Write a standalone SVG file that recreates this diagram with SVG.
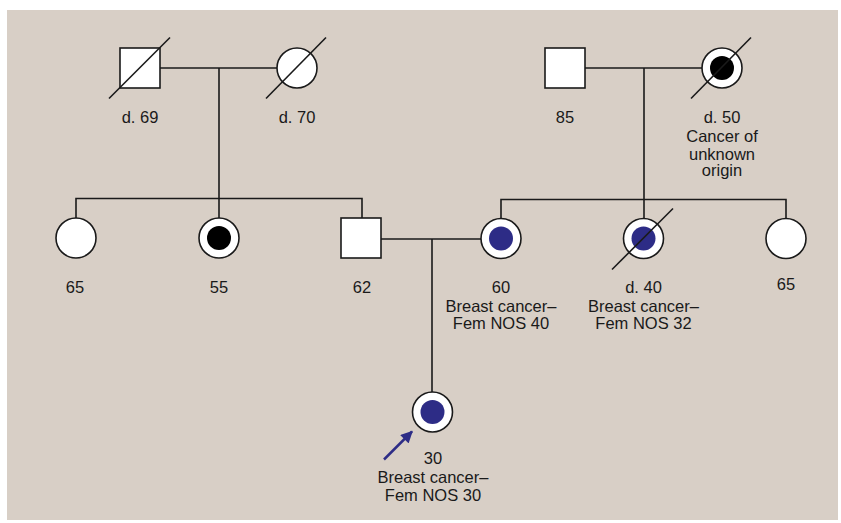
<svg xmlns="http://www.w3.org/2000/svg" width="841" height="523" viewBox="0 0 841 523">
<style>
.sym{fill:#fff;stroke:#1a1a1a;stroke-width:1.6}
.ln{stroke:#1a1a1a;stroke-width:1.6;fill:none}
.blk{fill:#000}
.blu{fill:#2d2c86}
.t{font-family:"Liberation Sans",Arial,sans-serif;font-size:16.5px;fill:#1a1a1a;text-anchor:middle}
</style>
<defs>
<marker id="ah" viewBox="0 0 10 10" refX="9" refY="5" markerWidth="13" markerHeight="12" markerUnits="userSpaceOnUse" orient="auto">
<path d="M0,0 L10,5 L0,10 Z" fill="#2d2c86"/>
</marker>
</defs>
<rect x="7" y="10" width="831" height="510" fill="#d8cfc6"/>
<g id="connectors">
<line class="ln" x1="160" y1="68" x2="277" y2="68"/>
<line class="ln" x1="219" y1="68" x2="219" y2="218"/>
<polyline class="ln" points="76,218 76,198.5 362,198.5 362,218"/>
<line class="ln" x1="585" y1="68" x2="702" y2="68"/>
<line class="ln" x1="644" y1="68" x2="644" y2="218"/>
<polyline class="ln" points="501,218 501,199.5 786,199.5 786,218"/>
<line class="ln" x1="381" y1="239" x2="481" y2="239"/>
<line class="ln" x1="432" y1="239" x2="432" y2="392"/>
</g>
<g id="gf1">
<rect class="sym" x="120" y="48" width="40" height="40"/>
<line class="ln" x1="109" y1="98.5" x2="170" y2="37.5"/>
<text class="t" x="140" y="123">d. 69</text>
</g>
<g id="gm1">
<circle class="sym" cx="297" cy="68" r="20"/>
<line class="ln" x1="266" y1="98.5" x2="326" y2="37.5"/>
<text class="t" x="297" y="123">d. 70</text>
</g>
<g id="gf2">
<rect class="sym" x="545" y="48" width="40" height="40"/>
<text class="t" x="565" y="123">85</text>
</g>
<g id="gm2">
<circle class="sym" cx="722" cy="68" r="20"/>
<circle class="blk" cx="722" cy="68" r="12"/>
<line class="ln" x1="691" y1="98.5" x2="751" y2="37.5"/>
<text class="t" x="722" y="123">d. 50</text>
<text class="t" x="722" y="142">Cancer of</text>
<text class="t" x="722" y="159.5">unknown</text>
<text class="t" x="722" y="176">origin</text>
</g>
<g id="aunt1">
<circle class="sym" cx="76" cy="238" r="20"/>
<text class="t" x="75" y="293">65</text>
</g>
<g id="aunt2">
<circle class="sym" cx="219" cy="238" r="20"/>
<circle class="blk" cx="219" cy="238" r="12"/>
<text class="t" x="219" y="293">55</text>
</g>
<g id="father">
<rect class="sym" x="341" y="218" width="40" height="40"/>
<text class="t" x="362" y="293">62</text>
</g>
<g id="mother">
<circle class="sym" cx="501" cy="238.5" r="20"/>
<circle class="blu" cx="501" cy="238.5" r="12"/>
<text class="t" x="501" y="293">60</text>
<text class="t" x="501" y="311.5">Breast cancer–</text>
<text class="t" x="501" y="329">Fem NOS 40</text>
</g>
<g id="maunt">
<circle class="sym" cx="643.5" cy="238.5" r="20"/>
<circle class="blu" cx="643.5" cy="238.5" r="12"/>
<line class="ln" x1="612" y1="269.5" x2="673" y2="208.5"/>
<text class="t" x="643.5" y="293">d. 40</text>
<text class="t" x="643.5" y="311.5">Breast cancer–</text>
<text class="t" x="643.5" y="329">Fem NOS 32</text>
</g>
<g id="maunt2">
<circle class="sym" cx="786" cy="238.5" r="20"/>
<text class="t" x="786" y="290">65</text>
</g>
<g id="proband">
<circle class="sym" cx="432.5" cy="412" r="20"/>
<circle class="blu" cx="432.5" cy="412" r="12"/>
<line x1="384" y1="459.5" x2="412" y2="431.5" stroke="#2d2c86" stroke-width="2.5" marker-end="url(#ah)"/>
<text class="t" x="433" y="464">30</text>
<text class="t" x="433" y="483">Breast cancer–</text>
<text class="t" x="433" y="500.5">Fem NOS 30</text>
</g>
</svg>
